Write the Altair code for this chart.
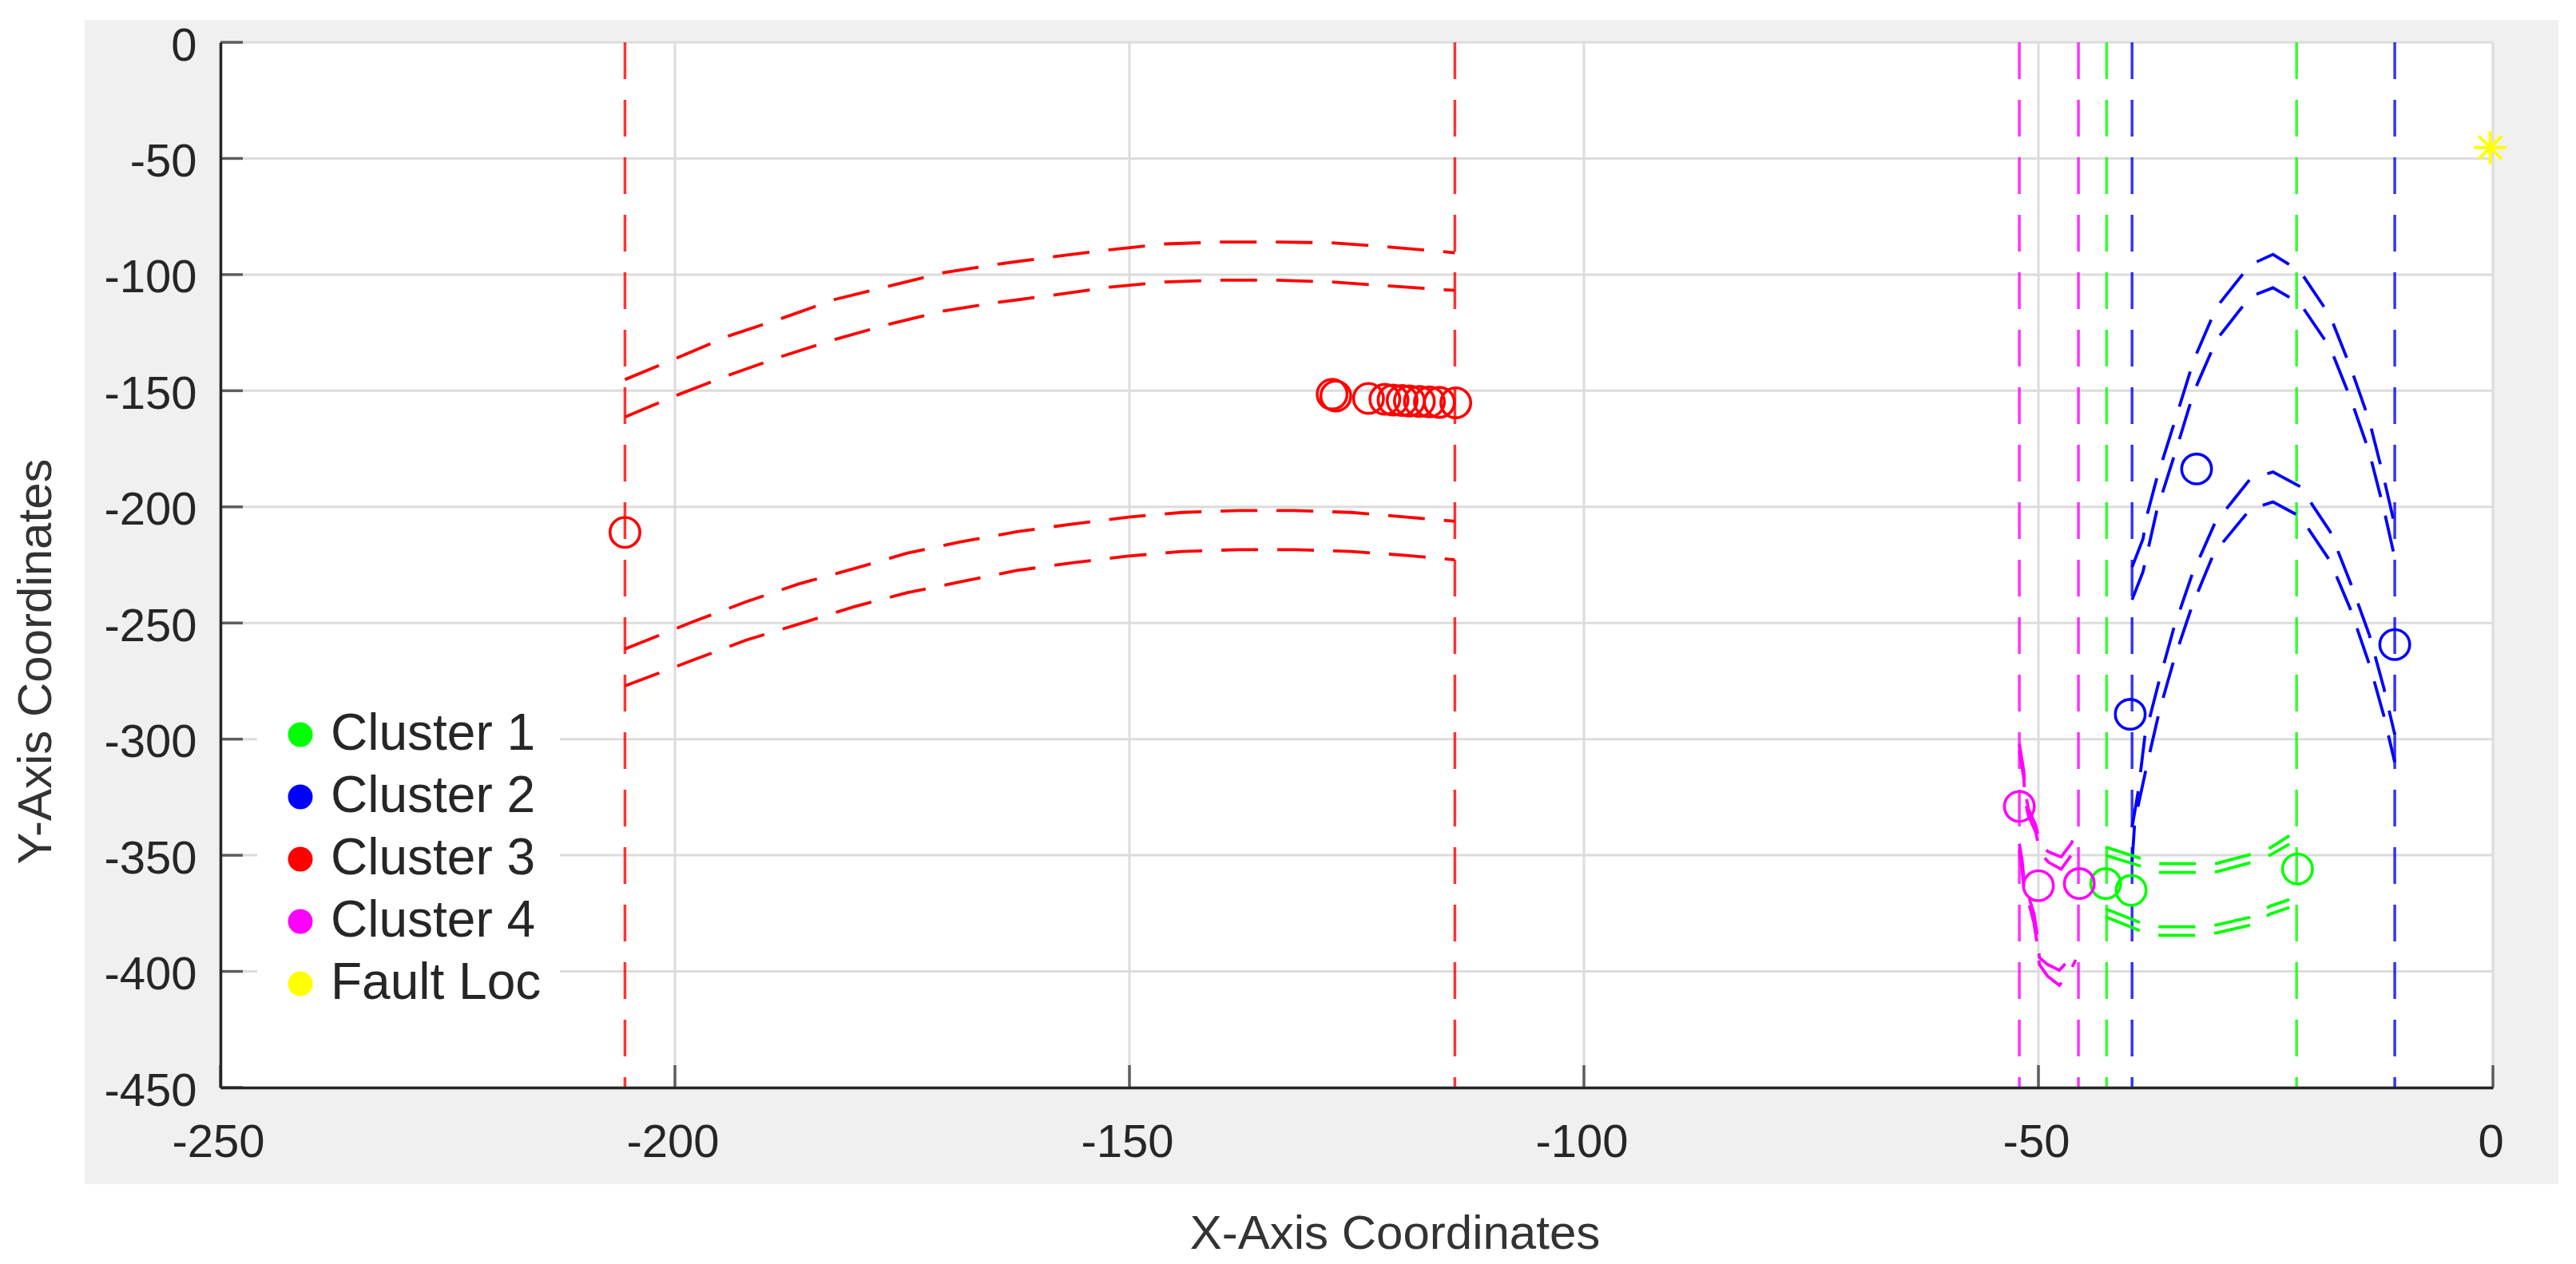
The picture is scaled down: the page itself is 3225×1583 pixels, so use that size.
import altair as alt
import pandas as pd

W, H = 2845, 1309

# ---------------- data ----------------
x_ticks = [-250, -200, -150, -100, -50, 0]
y_ticks = [0, -50, -100, -150, -200, -250, -300, -350, -400, -450]

cluster_names = ["Cluster 1", "Cluster 2", "Cluster 3", "Cluster 4", "Fault Loc"]
cluster_colors = ["#00ff00", "#0000ff", "#ff0000", "#ff00ff", "#ffff00"]

# detected points (circles)
c1_x = [-42.6, -39.8, -21.5]
c1_y = [-362.2, -365.1, -355.9]
c2_x = [-39.9, -32.6, -10.8]
c2_y = [-289.3, -183.7, -259.3]
c3_x = [-205.5, -127.7, -127.3, -123.7, -121.9, -121.0, -120.0, -119.2, -118.1, -117.0, -115.9, -114.1]
c3_y = [-211.0, -151.5, -152.3, -153.3, -153.7, -154.0, -154.2, -154.4, -154.6, -154.8, -155.0, -155.2]
c4_x = [-52.1, -50.0, -45.5]
c4_y = [-329.0, -363.1, -362.2]
fault_x = [-0.3]
fault_y = [-45.3]

# vertical dashed boundary lines
vlines = {
    "Cluster 3": [-205.5, -114.2],
    "Cluster 4": [-52.1, -45.6],
    "Cluster 1": [-42.5, -21.6],
    "Cluster 2": [-39.7, -10.8],
}

# dashed curves (cluster, xs, ys)
ru1_x = [-205.5, -199.9, -194.0, -188.3, -182.4, -176.4, -170.4, -164.5, -158.1, -152.2, -146.1, -139.9, -133.8, -127.7, -121.4, -115.5, -114.2]
ru1_y = [-145.2, -136.1, -126.3, -118.9, -110.7, -104.9, -99.1, -95.5, -92.2, -89.3, -86.8, -86.0, -86.0, -86.3, -88.1, -90.1, -90.6]
ru2_x = ru1_x
ru2_y = [-161.3, -152.1, -143.2, -135.3, -127.9, -121.3, -115.6, -112.0, -108.7, -105.4, -103.2, -102.4, -102.4, -103.2, -104.9, -106.5, -106.8]
rl1_x = [-205.5, -198.1, -192.2, -186.4, -180.3, -174.5, -168.6, -162.4, -156.3, -150.1, -144.2, -138.0, -131.8, -125.6, -119.5, -114.2]
rl1_y = [-261.2, -249.6, -240.9, -233.2, -226.6, -220.0, -215.1, -210.7, -207.4, -204.4, -202.4, -201.6, -201.6, -202.4, -204.4, -206.2]
rl2_x = rl1_x
rl2_y = [-277.1, -266.1, -257.4, -250.5, -243.0, -237.0, -232.3, -227.4, -224.1, -221.2, -219.2, -218.4, -218.4, -219.2, -220.9, -222.8]

bu1_x = [-39.7, -38.5, -38.0, -37.0, -34.7, -32.9, -30.4, -26.7, -24.2, -21.2, -17.9, -15.6, -13.6, -12.0, -10.8]
bu1_y = [-226.0, -213.8, -202.8, -188.0, -159.4, -136.7, -114.0, -95.8, -91.3, -98.6, -117.9, -140.6, -162.9, -187.6, -208.0]
bu2_x = [-39.7, -38.5, -37.0, -34.7, -32.9, -30.4, -26.7, -24.2, -21.2, -17.9, -15.6, -13.6, -12.0, -10.8]
bu2_y = [-240.0, -228.0, -202.0, -173.5, -150.5, -128.0, -109.5, -105.7, -112.5, -131.5, -154.0, -176.5, -201.0, -222.0]
bl1_x = [-39.7, -39.0, -38.3, -36.7, -35.1, -33.1, -30.6, -26.7, -24.2, -21.2, -17.9, -15.6, -13.6, -12.0, -10.8]
bl1_y = [-338.0, -321.9, -299.1, -274.6, -252.1, -229.2, -207.1, -188.0, -185.0, -191.3, -210.7, -233.4, -255.1, -278.0, -298.0]
bl2_x = [-39.7, -39.4, -38.1, -36.7, -35.1, -33.1, -30.7, -26.7, -24.2, -21.2, -17.9, -15.6, -13.5, -12.0, -10.8]
bl2_y = [-353.0, -335.4, -311.8, -288.0, -266.0, -242.7, -220.0, -201.0, -197.9, -204.2, -223.4, -244.8, -268.9, -290.0, -310.0]

g1a_x = [-42.6, -38.8, -36.6, -32.8, -30.4, -26.6, -24.5, -22.4]
g1a_y = [-346.5, -351.3, -353.6, -353.6, -353.5, -349.6, -346.8, -341.6]
g1b_x = g1a_x
g1b_y = [-350.0, -354.6, -357.4, -357.4, -357.1, -353.1, -349.9, -345.2]
g2a_x = g1a_x
g2a_y = [-373.1, -379.0, -380.8, -380.8, -380.0, -376.6, -371.9, -369.1]
g2b_x = g1a_x
g2b_y = [-376.5, -382.5, -384.5, -384.5, -383.4, -380.0, -375.3, -372.5]

m1a_x = [-52.1, -51.6, -51.5, -51.1, -50.3, -49.8, -48.9, -47.5, -46.4, -45.9]
m1a_y = [-302.0, -314.0, -322.0, -330.0, -337.0, -345.6, -348.5, -350.7, -345.0, -341.0]
m1b_x = m1a_x
m1b_y = [-305.0, -317.0, -326.0, -333.0, -340.0, -349.0, -353.0, -356.0, -350.0, -346.0]
m2a_x = [-52.1, -51.8, -51.6, -50.9, -50.5, -50.1, -49.9, -49.0, -47.7, -46.4, -45.9]
m2a_y = [-345.0, -352.0, -360.0, -370.0, -375.0, -385.0, -394.0, -397.0, -399.5, -394.0, -390.0]
m2b_x = m2a_x
m2b_y = [-348.0, -356.0, -364.0, -373.0, -379.0, -389.0, -397.0, -402.0, -406.0, -399.0, -395.0]

curves = [
    ("r1", "Cluster 3", ru1_x, ru1_y), ("r2", "Cluster 3", ru2_x, ru2_y),
    ("r3", "Cluster 3", rl1_x, rl1_y), ("r4", "Cluster 3", rl2_x, rl2_y),
    ("b1", "Cluster 2", bu1_x, bu1_y), ("b2", "Cluster 2", bu2_x, bu2_y),
    ("b3", "Cluster 2", bl1_x, bl1_y), ("b4", "Cluster 2", bl2_x, bl2_y),
    ("g1", "Cluster 1", g1a_x, g1a_y), ("g2", "Cluster 1", g1b_x, g1b_y),
    ("g3", "Cluster 1", g2a_x, g2a_y), ("g4", "Cluster 1", g2b_x, g2b_y),
    ("m1", "Cluster 4", m1a_x, m1a_y), ("m2", "Cluster 4", m1b_x, m1b_y),
    ("m3", "Cluster 4", m2a_x, m2a_y), ("m4", "Cluster 4", m2b_x, m2b_y),
]

# ---------------- tables ----------------
rows = []
for cid, cl, xs, ys in curves:
    for i, (a, b) in enumerate(zip(xs, ys)):
        rows.append({"curve": cid, "cluster": cl, "order": i, "x": a, "y": b})
curve_df = pd.DataFrame(rows)

pts = []
for cl, xs, ys in [("Cluster 1", c1_x, c1_y), ("Cluster 2", c2_x, c2_y),
                   ("Cluster 3", c3_x, c3_y), ("Cluster 4", c4_x, c4_y),
                   ("Fault Loc", fault_x, fault_y)]:
    for a, b in zip(xs, ys):
        pts.append({"cluster": cl, "x": a, "y": b})
pts_df = pd.DataFrame(pts)

vl_df = pd.DataFrame([{"cluster": k, "x": v} for k, vs in vlines.items() for v in vs])
xt_df = pd.DataFrame({"x": x_ticks})
yt_df = pd.DataFrame({"y": y_ticks})
one = pd.DataFrame({"a": [0]})

# ---------------- encodings ----------------
TXT = "#262626"
FONT = "Liberation Sans"

xscale = alt.Scale(domain=[-250, 0], nice=False, zero=False)
yscale = alt.Scale(domain=[-450, 0], nice=False, zero=False)
cscale = alt.Scale(domain=cluster_names, range=cluster_colors)

x_axis = alt.Axis(values=x_ticks, grid=False, ticks=False, tickSize=0, domain=True,
                  domainColor=TXT, domainWidth=3.5, labelFont=FONT, labelFontSize=58,
                  labelColor=TXT, labelPadding=40, labelOffset=-3, labelFlush=False,
                  labelExpr="'' + datum.value",
                  title="X-Axis Coordinates", titleFont=FONT, titleFontSize=60,
                  titleFontWeight="normal", titleColor="#333333", titleX=1470, titleY=183,
                  titleBaseline="middle", titleAlign="center", zindex=1)
y_axis = alt.Axis(values=y_ticks, grid=False, ticks=False, tickSize=0, domain=True,
                  domainColor=TXT, domainWidth=3.5, labelFont=FONT, labelFontSize=58,
                  labelColor=TXT, labelPadding=30, labelOffset=5, labelFlush=False,
                  labelExpr="'' + datum.value",
                  title="Y-Axis Coordinates", titleFont=FONT, titleFontSize=60,
                  titleFontWeight="normal", titleColor="#333333", titleX=-231, titleY=775,
                  titleAngle=270, titleBaseline="middle", titleAlign="center", zindex=1)

X = alt.X("x:Q", scale=xscale, axis=x_axis)
Y = alt.Y("y:Q", scale=yscale, axis=y_axis)

# ---------------- layers ----------------
bg = alt.Chart(one).mark_rect(fill="#f0f0f0", clip=False).encode(
    x=alt.value(-170), x2=alt.value(W + 82), y=alt.value(-28), y2=alt.value(H + 121))
plot_bg = alt.Chart(one).mark_rect(fill="white").encode(
    x=alt.value(0), x2=alt.value(W), y=alt.value(0), y2=alt.value(H))

xgrid = alt.Chart(xt_df).mark_rule(color="#dcdcdc", strokeWidth=3).encode(x=X)
ygrid = alt.Chart(yt_df).mark_rule(color="#dcdcdc", strokeWidth=3).encode(y=Y)

vrules = alt.Chart(vl_df).mark_rule(strokeWidth=3.5, strokeDash=[46, 26], opacity=0.8).encode(
    x=X, color=alt.Color("cluster:N", scale=cscale, legend=None))

lines = alt.Chart(curve_df).mark_line(strokeWidth=3.8, strokeDash=[46, 24], clip=True).encode(
    x=X, y=Y, detail="curve:N", order="order:Q",
    color=alt.Color("cluster:N", scale=cscale, legend=None))

circles = alt.Chart(pts_df).transform_filter(alt.datum.cluster != "Fault Loc").mark_point(
    shape="circle", filled=False, size=1400, strokeWidth=3.6, opacity=1).encode(
    x=X, y=Y, color=alt.Color("cluster:N", scale=cscale, legend=None))

star_path = "M-1,0L1,0M0,-1L0,1M-0.7,-0.7L0.7,0.7M-0.7,0.7L0.7,-0.7"
star = alt.Chart(pts_df).transform_filter(alt.datum.cluster == "Fault Loc").mark_point(
    shape=star_path, filled=False, size=1700, strokeWidth=4, opacity=1).encode(
    x=X, y=Y, color=alt.Color("cluster:N", scale=cscale, legend=None))

legend_layer = alt.Chart(pts_df).mark_point(shape="circle", filled=True, opacity=0).encode(
    x=X, y=Y,
    color=alt.Color("cluster:N", scale=cscale, legend=alt.Legend(
        orient="none", legendX=46, legendY=813, title=None, padding=22,
        fillColor="white", strokeColor="white", symbolType="circle", symbolSize=960,
        symbolOpacity=1, symbolStrokeWidth=0, labelFont=FONT, labelFontSize=64,
        labelColor=TXT, labelOffset=6, rowPadding=14, labelLimit=600)))

xticks_in = alt.Chart(xt_df).mark_tick(size=28, thickness=3.5, color=TXT).encode(
    x=X, y=alt.value(H - 14))
yticks_in = alt.Chart(yt_df).mark_tick(size=28, thickness=3.5, color=TXT).encode(
    y=Y, x=alt.value(14))

chart = alt.layer(
    bg, plot_bg, xgrid, ygrid, legend_layer, vrules, lines, circles, star, xticks_in, yticks_in
).properties(
    width=W, height=H,
    padding={"left": 268, "top": 45, "right": 90, "bottom": 215},
    autosize=alt.AutoSizeParams(type="none"),
    background="white",
).configure_view(stroke=None)

chart.save("out.html", embed_options={"renderer": "svg", "actions": False})
